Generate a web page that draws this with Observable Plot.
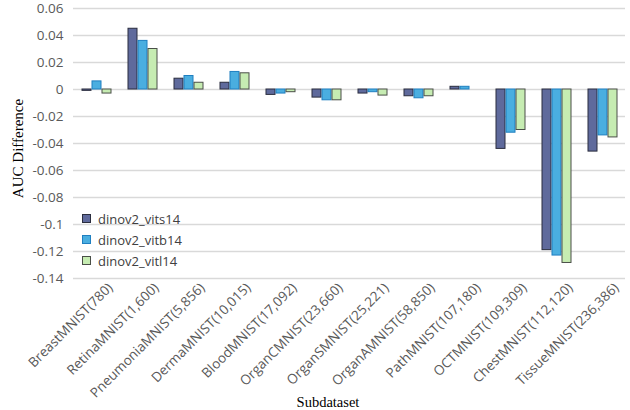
<!DOCTYPE html>
<html>
<head>
<meta charset="utf-8">
<script src="https://cdn.jsdelivr.net/npm/d3@7"></script>
<script src="https://cdn.jsdelivr.net/npm/@observablehq/plot@0.6"></script>
<style>
  html, body { margin: 0; padding: 0; background: #fff; }
  #wrap { position: relative; width: 630px; }
  #chart svg { display: block; }
  #chart g[aria-label="y-axis label"] text { font-family: "Liberation Serif", "Times New Roman", serif; font-size: 15px; fill: #000; }
  #legend { position: absolute; left: 82px; top: 208px; font-family: "Open Sans", sans-serif; font-size: 13px; color: #404040; }
  #legend .row { display: flex; align-items: center; height: 21px; }
  #legend .sw { width: 7px; height: 7px; margin-right: 7px; border: 1px solid; }
  #caption { font-family: "Liberation Serif", "Times New Roman", serif; font-size: 14.5px; color: #000; height: 18px; line-height: 20px; text-align: center; width: 656px; }
</style>
</head>
<body>
<div id="wrap">
  <div id="chart"></div>
  <div id="legend"></div>
  <div id="caption">Subdataset</div>
</div>
<script>
const categories = [
  "BreastMNIST(780)", "RetinaMNIST(1,600)", "PneumoniaMNIST(5,856)", "DermaMNIST(10,015)",
  "BloodMNIST(17,092)", "OrganCMNIST(23,660)", "OrganSMNIST(25,221)", "OrganAMNIST(58,850)",
  "PathMNIST(107,180)", "OCTMNIST(109,309)", "ChestMNIST(112,120)", "TissueMNIST(236,386)"
];
const series = ["dinov2_vits14", "dinov2_vitb14", "dinov2_vitl14"];
const vits14 = [-0.001, 0.045, 0.008, 0.005, -0.004, -0.006, -0.003, -0.005, 0.002, -0.044, -0.119, -0.046];
const vitb14 = [0.006, 0.036, 0.010, 0.013, -0.003, -0.008, -0.002, -0.0065, 0.002, -0.032, -0.123, -0.034];
const vitl14 = [-0.003, 0.030, 0.005, 0.012, -0.002, -0.008, -0.0045, -0.005, 0.000, -0.030, -0.1285, -0.0355];
const yTicks = [0.06, 0.04, 0.02, 0, -0.02, -0.04, -0.06, -0.08, -0.1, -0.12, -0.14];
const fills = ["#5f6a9c", "#4aaee0", "#c6ecb2"];
const strokes = ["#2a2d3e", "#1f7fc0", "#4a4f48"];

const seriesValues = [vits14, vitb14, vitl14];
const data = [];
series.forEach((s, i) => categories.forEach((c, j) => data.push({cat: c, series: s, value: seriesValues[i][j]})));

const chart = Plot.plot({
  width: 630,
  height: 392,
  marginLeft: 71,
  marginRight: 4,
  marginTop: 8,
  marginBottom: 114,
  style: {fontSize: "13.5px", fontFamily: "'Open Sans', sans-serif", color: "#595959", background: "#fff", overflow: "visible"},
  fx: {domain: categories, padding: 0},
  x: {domain: series, paddingInner: 0.14, paddingOuter: 0.77, axis: null},
  y: {domain: [-0.14, 0.06]},
  marks: [
    Plot.gridY(yTicks, {stroke: "#d9d9d9", strokeOpacity: 1, strokeWidth: 1.5}),
    ...series.map((s, i) => Plot.barY(data.filter(d => d.series === s), {
      fx: "cat", x: "series", y: "value", fill: fills[i], stroke: strokes[i], strokeWidth: 1
    })),
    Plot.axisY(yTicks, {
      tickSize: 0, tickPadding: 10, tickFormat: d => String(+d.toFixed(2)),
      fill: "#595959", label: "AUC Difference", labelAnchor: "center", labelOffset: 61, labelArrow: "none"
    }),
    Plot.axisFx({
      anchor: "bottom", tickRotate: -45, tickSize: 0, tickPadding: 7, dx: 14, fill: "#595959", label: null
    })
  ]
});
document.getElementById("chart").appendChild(chart);
// nudge the rotated y-axis title slightly downward (along its rotated baseline)
d3.select(chart).selectAll('g[aria-label="y-axis label"] text').attr("dx", "-5");

const legend = document.getElementById("legend");
series.forEach((s, i) => {
  const row = document.createElement("div");
  row.className = "row";
  const sw = document.createElement("span");
  sw.className = "sw";
  sw.style.background = fills[i];
  sw.style.borderColor = strokes[i];
  const t = document.createElement("span");
  t.textContent = s;
  row.appendChild(sw); row.appendChild(t);
  legend.appendChild(row);
});
</script>
</body>
</html>
